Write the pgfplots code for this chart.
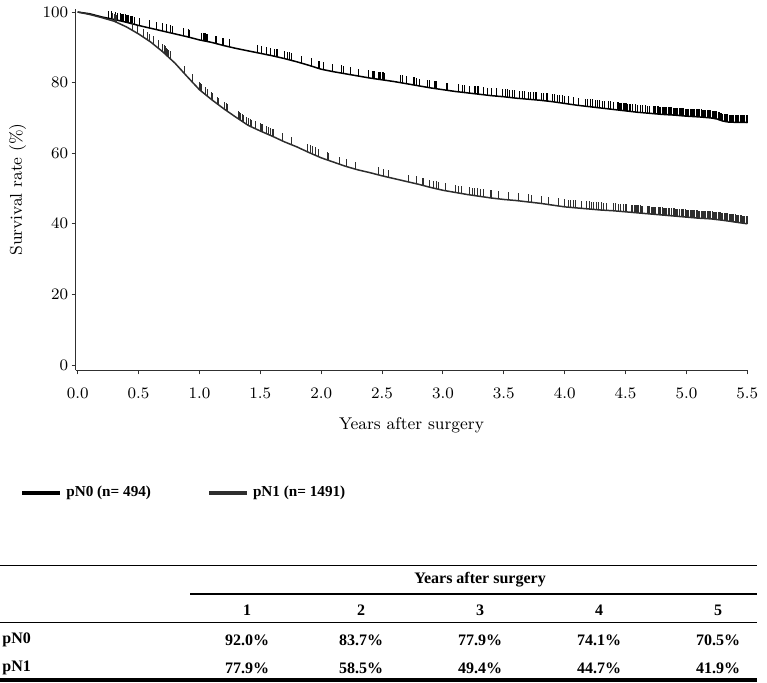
\documentclass[border=0pt]{standalone}
\usepackage{pgfplots}
\pgfplotsset{compat=1.18}
\usepackage{fontspec}
\newfontfamily\tabfont{Liberation Serif}
\pgfdeclareplotmark{cens}{\pgfpathmoveto{\pgfqpoint{0pt}{0pt}}\pgfpathlineto{\pgfqpoint{0pt}{3.8pt}}\pgfusepathqstroke}
\definecolor{axgray}{HTML}{303030}
\definecolor{nonegray}{HTML}{2E2E2E}
\begin{document}
\begin{tikzpicture}
\useasboundingbox (0,0) rectangle (383.5pt,341pt);
\begin{axis}[
 scale only axis, width=335.8pt, height=180.9pt,
 at={(37.85pt,155.85pt)}, anchor=south west,
 xmin=-0.016, xmax=5.5, ymin=-1.5, ymax=101,
 axis x line*=bottom, axis y line*=left,
 axis line style={line width=0.6pt, color=axgray, -},
 xtick={0,0.5,1,1.5,2,2.5,3,3.5,4,4.5,5,5.5},
 ytick={0,20,40,60,80,100},
 tick align=outside, major tick length=2pt,
 tick style={line width=0.5pt, axgray},
 xticklabel style={/pgf/number format/.cd, fixed, fixed zerofill, precision=1, /tikz/.cd, yshift=-3.5pt},
 yticklabel style={xshift=1.8pt},
 tick label style={font=\fontsize{8.3}{9}\selectfont},
 label style={font=\fontsize{8.5}{10}\selectfont},
 xlabel={Years after surgery},
 ylabel={Survival rate (\%)},
 xlabel style={at={(axis description cs:0.5,-0.151)}, anchor=center},
 ylabel style={at={(axis description cs:-0.0864,0.5)}, anchor=center},
 legend style={at={(axis description cs:-0.083,-0.338)}, anchor=west, draw=none, fill=none,
   font=\tabfont\bfseries\fontsize{7.6}{9}\selectfont, inner sep=0pt,
   /tikz/every even column/.append style={column sep=26pt}},
 legend columns=2, legend cell align=left,
 legend image code/.code={\draw[line width=2pt] (0pt,0pt) -- (19pt,0pt);},
]
\addplot[black, line width=0.75pt] coordinates {
(0.0,100) (0.1,99.5) (0.2,98.6) (0.3,97.9) (0.4,97.1) (0.5,96.2) (0.6,95.4) (0.7,94.6) (0.8,93.8) (0.9,93.0)
(1.0,92.1) (1.1,91.4) (1.2,90.5) (1.3,89.7) (1.4,89.0) (1.5,88.3) (1.6,87.6) (1.7,86.8) (1.8,85.9) (1.9,84.9)
(2.0,83.8) (2.1,83.1) (2.2,82.5) (2.3,81.9) (2.4,81.3) (2.5,80.8) (2.6,80.3) (2.7,79.7) (2.8,79.1) (2.9,78.5)
(3.0,78.0) (3.1,77.5) (3.2,77.1) (3.3,76.7) (3.4,76.3) (3.5,76.0) (3.6,75.6) (3.7,75.3) (3.8,75.0) (3.9,74.6)
(4.0,74.1) (4.1,73.6) (4.2,73.2) (4.3,72.8) (4.4,72.4) (4.5,72.0) (4.6,71.6) (4.7,71.3) (4.8,71.0) (4.9,70.8)
(5.0,70.5) (5.1,70.3) (5.2,70.0) (5.25,69.7) (5.3,69.1) (5.35,68.8) (5.5,68.7)
};
\addlegendentry{pN0 (n= 494)}
\addplot[nonegray, line width=0.75pt] coordinates {
(0.0,100) (0.1,99.3) (0.2,98.4) (0.3,97.4) (0.4,95.8) (0.5,93.8) (0.6,91.5) (0.7,88.7) (0.8,85.5) (0.9,81.7)
(1.0,78.0) (1.1,75.2) (1.2,72.6) (1.3,70.2) (1.4,67.9) (1.5,66.3) (1.6,64.8) (1.7,63.2) (1.8,61.8) (1.9,60.2)
(2.0,58.7) (2.1,57.5) (2.2,56.3) (2.3,55.3) (2.4,54.5) (2.5,53.6) (2.6,52.8) (2.7,52.0) (2.8,51.2) (2.9,50.3)
(3.0,49.5) (3.1,48.9) (3.2,48.3) (3.3,47.8) (3.4,47.3) (3.5,46.9) (3.6,46.6) (3.7,46.2) (3.8,45.8) (3.9,45.3)
(4.0,44.8) (4.1,44.5) (4.2,44.2) (4.3,43.9) (4.4,43.7) (4.5,43.4) (4.6,43.1) (4.7,42.8) (4.8,42.5) (4.9,42.2)
(5.0,41.9) (5.1,41.6) (5.2,41.4) (5.3,41.0) (5.4,40.5) (5.5,40.0)
};
\addlegendentry{pN1 (n= 1491)}
% censoring marks pN0
\addplot[forget plot, only marks, mark=cens, black, mark options={line width=0.5pt}] coordinates {
(0.25,98.25) (0.28,98.0) (0.31,97.8) (0.33,97.66) (0.35,97.5) (0.36,97.4) (0.37,97.3) (0.38,97.3) (0.39,97.2) (0.40,97.1)
(0.41,97.0) (0.42,96.9) (0.43,96.8) (0.44,96.7) (0.45,96.65) (0.47,96.5) (0.51,96.1) (0.59,95.5) (0.65,95.0) (0.70,94.6)
(0.73,94.4) (0.76,94.1) (0.78,94.0) (0.87,93.2) (0.91,92.9) (0.92,92.8) (1.02,92.0) (1.03,91.9) (1.04,91.8) (1.05,91.8)
(1.06,91.7) (1.07,91.6) (1.13,91.1) (1.14,91.0) (1.19,90.6) (1.20,90.5) (1.25,90.1) (1.48,88.4) (1.51,88.2) (1.55,87.9)
(1.58,87.7) (1.62,87.4) (1.63,87.4) (1.64,87.3) (1.70,86.8) (1.72,86.6) (1.74,86.4) (1.76,86.3) (1.84,85.5) (1.92,84.7)
(1.98,84.0) (1.99,83.9) (2.02,83.7) (2.09,83.2) (2.17,82.7) (2.18,82.6) (2.24,82.3) (2.31,81.8) (2.39,81.4) (2.42,81.2)
(2.43,81.1) (2.44,81.1) (2.47,80.95) (2.48,80.9) (2.49,80.85) (2.50,80.8) (2.51,80.75) (2.52,80.7) (2.65,80.0) (2.67,79.9)
(2.70,79.7) (2.76,79.3) (2.77,79.3) (2.78,79.2) (2.81,79.0) (2.87,78.7) (2.89,78.6) (2.93,78.35) (2.94,78.3) (2.95,78.25)
(3.03,77.85) (3.04,77.8) (3.13,77.4) (3.16,77.3) (3.18,77.2) (3.22,77.0) (3.26,76.9) (3.27,76.8) (3.28,76.8) (3.29,76.75)
(3.33,76.6) (3.37,76.4) (3.40,76.3) (3.44,76.2) (3.49,76.0) (3.51,76.0) (3.53,75.9) (3.55,75.8) (3.57,75.7) (3.59,75.65)
(3.63,75.5) (3.65,75.45) (3.67,75.4) (3.70,75.3) (3.72,75.25) (3.74,75.2) (3.76,75.1) (3.77,75.1) (3.81,75.0) (3.83,74.9)
(3.85,74.8) (3.86,74.8) (3.90,74.6) (3.92,74.5) (3.94,74.4) (3.96,74.3) (3.98,74.2) (4.00,74.1) (4.03,74.0) (4.07,73.75)
(4.11,73.55) (4.17,73.3) (4.19,73.25) (4.21,73.15) (4.23,73.1) (4.25,73.0) (4.27,72.9) (4.29,72.85) (4.31,72.75) (4.33,72.7)
(4.36,72.55) (4.38,72.5) (4.40,72.4) (4.43,72.3) (4.44,72.25) (4.45,72.2) (4.46,72.15) (4.47,72.1) (4.48,72.1) (4.49,72.05)
(4.50,72.0) (4.51,71.95) (4.52,71.9) (4.53,71.9) (4.54,71.85) (4.56,71.75) (4.58,71.7) (4.60,71.6) (4.62,71.55) (4.64,71.5)
(4.66,71.4) (4.68,71.35) (4.70,71.3) (4.73,71.2) (4.74,71.2) (4.75,71.15) (4.76,71.1) (4.77,71.1) (4.78,71.05) (4.79,71.0)
(4.80,71.0) (4.81,71.0) (4.82,70.95) (4.83,70.95) (4.84,70.9) (4.85,70.9) (4.86,70.9) (4.87,70.85) (4.88,70.85) (4.89,70.8)
(4.90,70.8) (4.91,70.75) (4.92,70.75) (4.93,70.7) (4.94,70.7) (4.95,70.65) (4.96,70.6) (4.97,70.6) (4.98,70.55) (4.99,70.5)
(5.00,70.5) (5.01,70.5) (5.02,70.45) (5.03,70.45) (5.04,70.4) (5.05,70.4) (5.06,70.4) (5.07,70.35) (5.08,70.35) (5.09,70.3)
(5.10,70.3) (5.11,70.25) (5.12,70.25) (5.13,70.2) (5.14,70.2) (5.15,70.15) (5.16,70.1) (5.17,70.1) (5.18,70.05) (5.19,70.0)
(5.20,70.0) (5.21,69.95) (5.22,69.9) (5.23,69.8) (5.24,69.75) (5.25,69.7) (5.26,69.6) (5.27,69.45) (5.28,69.35) (5.29,69.2)
(5.30,69.1) (5.31,69.05) (5.32,69.0) (5.33,68.9) (5.34,68.85) (5.35,68.8) (5.36,68.8) (5.37,68.8) (5.38,68.8) (5.39,68.8)
(5.40,68.75) (5.41,68.75) (5.42,68.75) (5.43,68.75) (5.44,68.75) (5.45,68.7) (5.46,68.7) (5.47,68.7) (5.48,68.7) (5.49,68.7)
(5.50,68.7)
};
% censoring marks pN1
\addplot[forget plot, only marks, mark=cens, nonegray, mark options={line width=0.5pt}] coordinates {
(0.29,97.5) (0.30,97.4) (0.31,97.25) (0.32,97.1) (0.45,94.8) (0.49,94.0) (0.54,92.9) (0.57,92.2) (0.59,91.7) (0.62,91.0)
(0.66,89.8) (0.70,88.7) (0.71,88.4) (0.72,88.1) (0.73,87.7) (0.74,87.4) (0.75,87.1) (0.76,86.8) (0.88,82.5) (0.94,80.2)
(1.00,78.0) (1.01,77.7) (1.02,77.4) (1.05,76.6) (1.07,76.0) (1.10,75.2) (1.11,74.9) (1.15,73.9) (1.16,73.6) (1.21,72.4)
(1.22,72.1) (1.23,71.9) (1.32,69.7) (1.33,69.5) (1.34,69.3) (1.35,69.05) (1.36,68.8) (1.39,68.1) (1.40,67.9) (1.42,67.6)
(1.43,67.4) (1.46,66.9) (1.50,66.3) (1.51,66.15) (1.52,66.0) (1.55,65.55) (1.57,65.25) (1.58,65.1) (1.60,64.8) (1.61,64.6)
(1.68,63.5) (1.76,62.4) (1.89,60.4) (1.91,60.1) (1.93,59.8) (1.95,59.5) (1.98,59.0) (2.05,58.1) (2.06,58.0) (2.15,56.9)
(2.21,56.2) (2.28,55.5) (2.47,53.9) (2.51,53.5) (2.55,53.2) (2.72,51.8) (2.78,51.4) (2.83,50.9) (2.84,50.8) (2.89,50.4)
(2.92,50.1) (2.95,49.9) (2.96,49.8) (3.02,49.4) (3.10,48.9) (3.13,48.7) (3.15,48.6) (3.22,48.2) (3.24,48.1) (3.26,48.0)
(3.28,47.9) (3.31,47.75) (3.33,47.65) (3.39,47.35) (3.40,47.3) (3.46,47.05) (3.54,46.8) (3.62,46.5) (3.70,46.2) (3.73,46.1)
(3.81,45.75) (3.87,45.45) (3.95,45.05) (4.00,44.8) (4.03,44.7) (4.05,44.65) (4.07,44.6) (4.09,44.55) (4.14,44.4) (4.18,44.25)
(4.20,44.2) (4.22,44.15) (4.24,44.1) (4.26,44.0) (4.28,43.95) (4.30,43.9) (4.32,43.85) (4.34,43.8) (4.40,43.7) (4.42,43.65)
(4.44,43.6) (4.46,43.5) (4.48,43.45) (4.50,43.4) (4.51,43.35) (4.55,43.25) (4.56,43.2) (4.57,43.2) (4.58,43.15) (4.59,43.15)
(4.60,43.1) (4.61,43.05) (4.62,43.05) (4.63,43.0) (4.64,43.0) (4.68,42.85) (4.69,42.85) (4.70,42.8) (4.71,42.75) (4.72,42.75)
(4.73,42.7) (4.74,42.7) (4.75,42.65) (4.77,42.6) (4.78,42.55) (4.79,42.55) (4.80,42.5) (4.81,42.45) (4.82,42.45) (4.83,42.4)
(4.84,42.4) (4.85,42.35) (4.86,42.3) (4.88,42.25) (4.89,42.25) (4.90,42.2) (4.91,42.15) (4.92,42.15) (4.93,42.1) (4.94,42.1)
(4.96,42.0) (4.97,42.0) (4.98,41.95) (4.99,41.95) (5.00,41.9) (5.01,41.85) (5.02,41.85) (5.03,41.8) (5.04,41.8) (5.05,41.75)
(5.06,41.7) (5.07,41.7) (5.08,41.65) (5.09,41.65) (5.10,41.6) (5.11,41.6) (5.12,41.55) (5.13,41.55) (5.14,41.5) (5.15,41.5)
(5.16,41.5) (5.17,41.45) (5.18,41.45) (5.19,41.4) (5.20,41.4) (5.21,41.35) (5.22,41.3) (5.23,41.3) (5.24,41.25) (5.25,41.2)
(5.26,41.15) (5.27,41.1) (5.28,41.1) (5.29,41.05) (5.30,41.0) (5.31,40.95) (5.32,40.9) (5.33,40.85) (5.34,40.8) (5.35,40.75)
(5.36,40.7) (5.37,40.65) (5.38,40.6) (5.39,40.55) (5.40,40.5) (5.41,40.45) (5.42,40.4) (5.43,40.35) (5.44,40.3) (5.45,40.25)
(5.46,40.2) (5.47,40.15) (5.48,40.1) (5.49,40.05) (5.50,40.0)
};
\end{axis}
% summary table
\begin{scope}[font=\tabfont\bfseries\fontsize{8}{9.6}\selectfont, every node/.style={inner sep=0pt}]
\draw[line width=0.7pt, black] (0pt,58.15pt) -- (378.5pt,58.15pt);
\node at (240pt,51pt) {Years after surgery};
\draw[line width=0.6pt, black] (95pt,44pt) -- (378.5pt,44pt);
\node at (123.5pt,36pt) {1};
\node at (180.5pt,36pt) {2};
\node at (240pt,36pt) {3};
\node at (299.5pt,36pt) {4};
\node at (359pt,36pt) {5};
\draw[line width=0.7pt, black] (0pt,29.65pt) -- (378.5pt,29.65pt);
\node[anchor=west] at (1pt,21pt) {pN0};
\node at (123.5pt,21pt) {92.0\%};
\node at (180.5pt,21pt) {83.7\%};
\node at (240pt,21pt) {77.9\%};
\node at (299.5pt,21pt) {74.1\%};
\node at (359pt,21pt) {70.5\%};
\node[anchor=west] at (1pt,7pt) {pN1};
\node at (123.5pt,7pt) {77.9\%};
\node at (180.5pt,7pt) {58.5\%};
\node at (240pt,7pt) {49.4\%};
\node at (299.5pt,7pt) {44.7\%};
\node at (359pt,7pt) {41.9\%};
\draw[line width=2pt, black] (0pt,1.2pt) -- (378.5pt,1.2pt);
\end{scope}
\end{tikzpicture}
\end{document}
